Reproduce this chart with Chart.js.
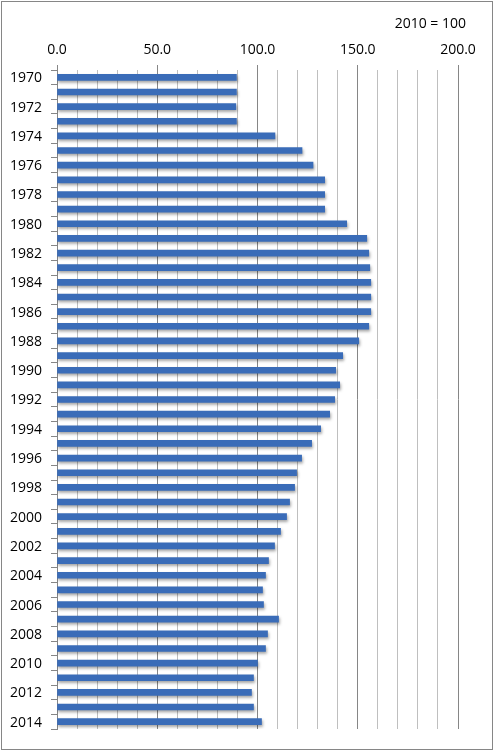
<!DOCTYPE html>
<html>
<head>
<meta charset="utf-8">
<script src="https://cdn.jsdelivr.net/npm/chart.js@4.4.0/dist/chart.umd.min.js"></script>
<style>
html,body{margin:0;padding:0;background:#fff;}
#wrap{position:relative;width:494px;height:751px;}
</style>
</head>
<body>
<div id="wrap"><canvas id="c" width="494" height="751"></canvas></div>
<script>
const years = [];
for (let y = 1970; y <= 2014; y++) years.push(String(y));
const values = [
  89.5, 89.5, 89.2, 89.5, 108.7, 122.2, 127.7, 133.5, 133.5, 133.5,
  144.5, 154.5, 155.5, 156.0, 156.5, 156.5, 156.5, 155.5, 150.5, 142.5,
  139.0, 141.0, 138.5, 136.0, 131.5, 127.0, 122.0, 119.5, 118.5, 116.0,
  114.5, 111.5, 108.5, 105.5, 104.0, 102.5, 103.0, 110.5, 105.0, 104.0,
  100.0, 98.0, 97.0, 98.0, 102.0
];
const xMin = 0, xMax = 200, xStep = 10, xMajor = 50;
const noteText = '2010 = 100';

const FONT = '"Open Sans", "Liberation Sans", sans-serif';

const decor = {
  id: 'decor',
  beforeDatasetsDraw(chart) {
    const ctx = chart.ctx;
    ctx.save();
    ctx.shadowColor = 'rgba(0,0,0,0.35)';
    ctx.shadowBlur = 3;
    ctx.shadowOffsetX = 1;
    ctx.shadowOffsetY = 2;
  },
  afterDatasetsDraw(chart) {
    chart.ctx.restore();
  },
  afterDraw(chart) {
    const ctx = chart.ctx;
    ctx.save();
    ctx.strokeStyle = '#868686';
    ctx.lineWidth = 1;
    ctx.strokeRect(1.5, 1.5, 491, 748);
    ctx.fillStyle = '#000';
    ctx.font = '14px ' + FONT;
    ctx.textAlign = 'right';
    ctx.textBaseline = 'middle';
    ctx.fillText(noteText, 466, 24);
    ctx.restore();
  }
};

new Chart(document.getElementById('c'), {
  type: 'bar',
  data: {
    labels: years,
    datasets: [{
      data: values,
      backgroundColor: '#3a6cb8',
      borderWidth: 0,
      barThickness: 6
    }]
  },
  options: {
    indexAxis: 'y',
    responsive: false,
    animation: false,
    devicePixelRatio: 1,
    layout: { padding: { left: 0, top: 0, right: 36, bottom: 22 } },
    plugins: { legend: { display: false }, tooltip: { enabled: false } },
    scales: {
      x: {
        position: 'top',
        min: xMin, max: xMax,
        afterFit(scale) { scale.height = 70; },
        ticks: {
          stepSize: xStep,
          autoSkip: false,
          maxRotation: 0,
          padding: 7,
          color: '#000',
          font: { family: FONT, size: 14 },
          callback: (v) => (v % xMajor === 0 ? v.toFixed(1) : '')
        },
        grid: {
          color: (c) => (c.tick && c.tick.value % xMajor === 0 ? '#868686' : '#bfbfbf'),
          tickColor: (c) => (c.tick && c.tick.value % xMajor === 0 ? '#868686' : 'rgba(0,0,0,0)'),
          tickLength: 5,
          lineWidth: 1
        },
        border: { display: false }
      },
      y: {
        afterFit(scale) { scale.width = 57; },
        ticks: {
          autoSkip: false,
          padding: 9,
          labelOffset: 1,
          color: '#000',
          font: { family: FONT, size: 14 },
          callback: function (v, i) { return i % 2 === 0 ? this.getLabelForValue(v) : ''; }
        },
        grid: {
          drawOnChartArea: false,
          offset: true,
          tickLength: 6,
          color: '#868686'
        },
        border: { display: true, color: '#868686' }
      }
    }
  },
  plugins: [decor]
});
</script>
</body>
</html>
